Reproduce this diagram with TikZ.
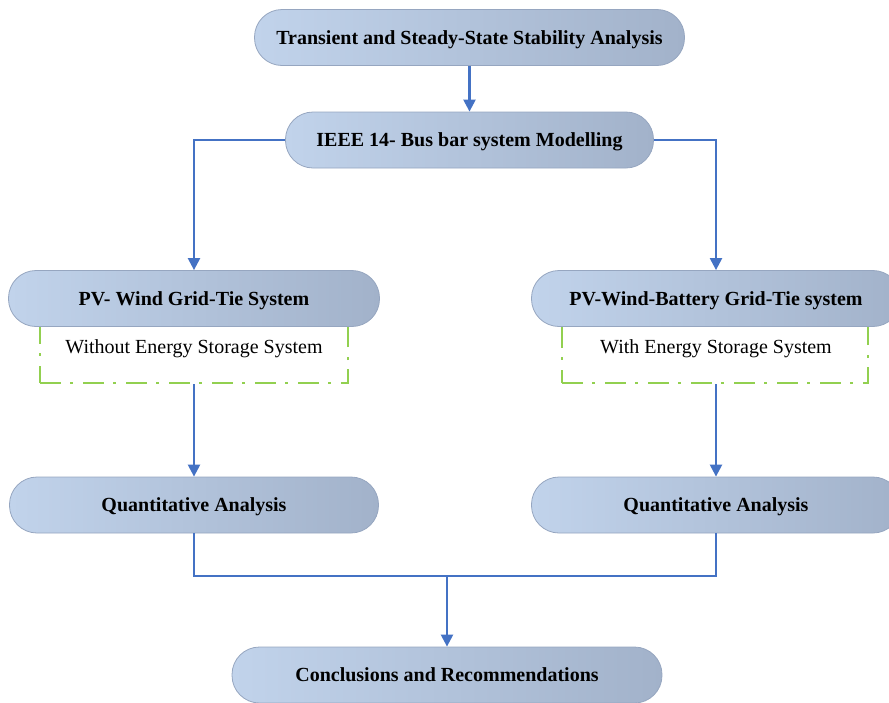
\documentclass[tikz,border=0pt]{standalone}
\usepackage{fontspec}
\setmainfont{Liberation Serif}
\usetikzlibrary{arrows.meta}
\definecolor{arrowblue}{RGB}{68,114,196}
\definecolor{boxl}{RGB}{193,211,235}
\definecolor{boxr}{RGB}{162,178,202}
\definecolor{boxline}{RGB}{150,166,192}
\definecolor{dgreen}{RGB}{146,208,80}
\begin{document}
\begin{tikzpicture}[x=1pt,y=-1pt,
  pill/.style={rectangle, rounded corners=27.5pt, minimum height=56pt, draw=boxline, line width=0.8pt,
    left color=boxl, right color=boxr, font=\fontsize{20}{24}\selectfont\bfseries, inner sep=0pt,
    text height=15pt, text depth=2pt},
  conn/.style={draw=arrowblue, line width=2.3pt},
  arr/.style={conn, -{Triangle[length=12pt,width=12pt]}},
  dbox/.style={draw=dgreen, line width=2.6pt, dash pattern=on 21pt off 9pt on 3pt off 10pt, inner sep=0pt},
  plain/.style={font=\fontsize{20}{24}\selectfont, inner sep=0pt, text height=15pt, text depth=2pt}]
\useasboundingbox (0,0) rectangle (889,702);
\clip (0,0) rectangle (889,702);
% dashed boxes (behind the pills)
\node[dbox, minimum width=308pt, minimum height=66pt] (wo) at (194,350) {};
\node[dbox, minimum width=306pt, minimum height=66pt] (wi) at (715,350) {};
\node[plain] (wot) at (194,347) {Without Energy Storage System};
\node[plain] (wit) at (716,347) {With Energy Storage System};
% pills
\node[pill, minimum width=430pt] (top) at (469.5,37.5) {Transient and Steady-State Stability Analysis};
\node[pill, minimum width=368pt] (ieee) at (469.5,140) {IEEE 14- Bus bar system Modelling};
\node[pill, minimum width=371pt] (pvl) at (194,298.5) {PV- Wind Grid-Tie System};
\node[pill, minimum width=369pt] (pvr) at (716,298.5) {PV-Wind-Battery Grid-Tie system};
\node[pill, minimum width=369pt] (qal) at (194,505) {Quantitative Analysis};
\node[pill, minimum width=369pt] (qar) at (716,505) {Quantitative Analysis};
\node[pill, minimum width=430pt] (conc) at (447,675) {Conclusions and Recommendations};
\coordinate (j) at (447,576);
% connectors
\draw[arr] (top.south) -- (ieee.north);
\draw[arr] (ieee.west) -| (pvl.north);
\draw[arr] (ieee.east) -| (pvr.north);
\draw[arr] (wo.south) -- (qal.north);
\draw[arr] (wi.south -| qar.north) -- (qar.north);
\draw[conn] (qal.south) |- (j) -| (qar.south);
\draw[arr] (j) -- (conc.north);
\end{tikzpicture}
\end{document}
